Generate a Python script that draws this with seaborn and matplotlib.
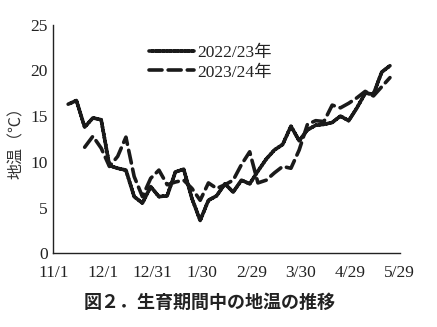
import numpy as np
import pandas as pd
import matplotlib
matplotlib.use("Agg")
import matplotlib.pyplot as plt
import seaborn as sns

# days since 11/1
days = [9, 14, 19, 24, 29, 34, 39, 44, 49, 54, 59, 64, 69, 74, 79, 84, 89, 94, 99, 104,
        109, 114, 119, 124, 129, 134, 139, 144, 149, 154, 159, 164, 169, 174, 179, 184,
        189, 194, 199, 204]

temp_2022 = [16.3, 16.7, 13.8, 14.8, 14.6, 9.6, 9.3, 9.1, 6.2, 5.5, 7.3, 6.2, 6.3, 8.9,
             9.2, 6.0, 3.6, 5.8, 6.3, 7.6, 6.7, 8.0, 7.6, 9.0, 10.3, 11.3, 11.9, 13.9,
             12.3, 13.5, 14.0, 14.1, 14.3, 15.0, 14.5, 15.9, 17.5, 17.4, 19.8, 20.5]

temp_2023 = [np.nan, np.nan, 11.6, 12.8, 11.5, 9.5, 10.6, 12.7, 8.4, 6.2, 8.2, 9.1, 7.5,
             7.8, 8.0, 7.1, 5.8, 7.7, 7.1, 7.5, 8.0, 9.7, 11.1, 7.7, 8.0, 8.8, 9.5, 9.3,
             11.3, 14.1, 14.5, 14.4, 16.2, 15.9, 16.4, 17.0, 17.7, 17.2, 18.2, 19.2]

series_names = ["2022/23年", "2023/24年"]
tick_days = [0, 30, 60, 90, 120, 150, 180, 210]
tick_labels = ["11/1", "12/1", "12/31", "1/30", "2/29", "3/30", "4/29", "5/29"]
y_ticks = [0, 5, 10, 15, 20, 25]

df = pd.concat([
    pd.DataFrame({"day": days, "temp": temp_2022, "season": series_names[0]}),
    pd.DataFrame({"day": days, "temp": temp_2023, "season": series_names[1]}),
]).dropna()

sns.set_style("white")
plt.rcParams["font.family"] = ["Liberation Serif", "Noto Sans CJK JP"]

fig = plt.figure(figsize=(4.37, 3.27), dpi=100)
ax = fig.add_axes([0.122, 0.225, 0.793, 0.70])

sns.lineplot(data=df, x="day", y="temp", hue="season", style="season",
             palette=["#1a1a1a", "#1a1a1a"], dashes=[(1, 0), (3.6, 1.7)],
             linewidth=2.6, ax=ax, legend=True)
for ln in ax.lines:
    ln.set_dash_capstyle("round")
    ln.set_solid_joinstyle("miter")

ax.set_xlim(0, 210)
ax.set_ylim(0, 25)
ax.set_xticks(tick_days)
ax.set_xticklabels(tick_labels, fontsize=12.5)
ax.set_yticks(y_ticks)
ax.set_yticklabels([str(v) for v in y_ticks], fontsize=12.5)
ax.tick_params(direction="in", length=4, width=1, colors="#222222", pad=4)
ax.tick_params(axis="x", pad=8)
for s in ["top", "right"]:
    ax.spines[s].set_visible(False)
for s in ["left", "bottom"]:
    ax.spines[s].set_color("#222222")
    ax.spines[s].set_linewidth(1.0)
ax.set_xlabel("")
ax.set_ylabel("地温（℃）", fontsize=11.5, family=["Noto Sans CJK JP"], color="#333333", labelpad=4)

leg = ax.legend(loc="upper left", bbox_to_anchor=(0.23, 0.98), frameon=False,
                fontsize=12.5, handlelength=2.6, handletextpad=0.2, labelspacing=0.2)
for t in leg.get_texts():
    t.set_color("#222222")

fig.text(0.48, 0.075, "図２．生育期間中の地温の推移", ha="center", va="center",
         fontsize=13, fontweight="bold", family=["Noto Sans CJK JP"], color="#222222")

fig.savefig("out.png", dpi=100)
